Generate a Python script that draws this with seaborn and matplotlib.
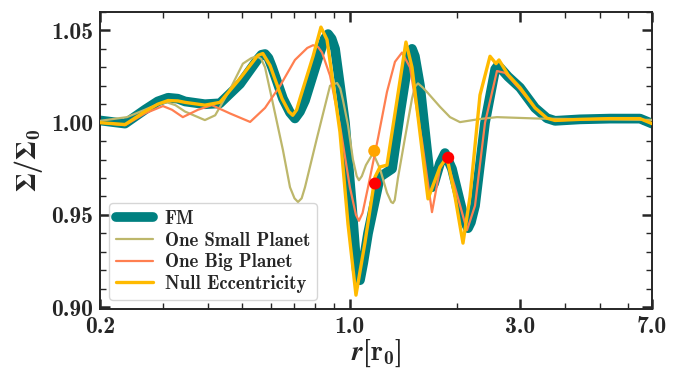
import matplotlib
matplotlib.use('Agg')
import matplotlib.pyplot as plt
from matplotlib.ticker import FixedLocator, FormatStrFormatter, MultipleLocator, LogLocator, NullFormatter
import seaborn as sns
import numpy as np

# radius in r0 and surface density ratio
r_fm = [0.200, 0.235, 0.267, 0.290, 0.310, 0.330, 0.346, 0.393, 0.433, 0.493, 0.553, 0.566,
        0.579, 0.592, 0.606, 0.650, 0.680, 0.702, 0.725, 0.749, 0.815, 0.850, 0.869, 0.889,
        0.909, 0.969, 1.013, 1.045, 1.067, 1.090, 1.124, 1.214, 1.312, 1.381, 1.465, 1.492,
        1.520, 1.571, 1.680, 1.697, 1.720, 1.787, 1.845, 1.930, 2.100, 2.140, 2.180, 2.239,
        2.388, 2.550, 2.596, 2.640, 2.769, 2.992, 3.296, 3.560, 3.749, 4.403, 5.341, 6.479, 7.0]
s_fm = [1.0012, 0.9995, 1.0070, 1.0115, 1.0135, 1.0130, 1.0115, 1.0100, 1.0105, 1.0210, 1.0345, 1.0368,
        1.0372, 1.0350, 1.0300, 1.0130, 1.0055, 1.0023, 1.0060, 1.0120, 1.0350, 1.0455, 1.0480, 1.0455,
        1.0400, 1.0000, 0.9550, 0.9200, 0.9146, 0.9240, 0.9400, 0.9706, 0.9750, 1.0050, 1.0370, 1.0400,
        1.0360, 1.0200, 0.9680, 0.9650, 0.9670, 0.9780, 0.9835, 0.9750, 0.9460, 0.9428, 0.9460, 0.9550,
        1.0000, 1.0290, 1.0310, 1.0295, 1.0250, 1.0190, 1.0080, 1.0024, 1.0010, 1.0018, 1.0022, 1.0022, 0.9995]

r_small = [0.200, 0.238, 0.267, 0.290, 0.308, 0.325, 0.346, 0.393, 0.420, 0.462, 0.502, 0.530,
           0.550, 0.565, 0.579, 0.609, 0.650, 0.680, 0.700, 0.716, 0.733, 0.749, 0.809, 0.880,
           0.900, 0.921, 0.940, 0.957, 0.988, 1.020, 1.045, 1.060, 1.080, 1.109, 1.161, 1.214,
           1.270, 1.305, 1.320, 1.335, 1.363, 1.426, 1.492, 1.520, 1.551, 1.600, 1.654, 1.787,
           1.906, 2.032, 2.312, 2.579, 3.403, 5.008, 7.0]
s_small = [1.0010, 1.0030, 1.0070, 1.0100, 1.0110, 1.0095, 1.0060, 1.0014, 1.0040, 1.0180, 1.0320, 1.0350,
           1.0360, 1.0345, 1.0300, 1.0105, 0.9850, 0.9650, 0.9590, 0.9570, 0.9590, 0.9650, 0.9917, 1.0200,
           1.0208, 1.0215, 1.0185, 1.0120, 0.9987, 0.9800, 0.9710, 0.9688, 0.9710, 0.9770, 0.9835, 0.9750,
           0.9620, 0.9570, 0.9564, 0.9580, 0.9700, 0.9917, 1.0130, 1.0195, 1.0213, 1.0190, 1.0160, 1.0086,
           1.0030, 1.0003, 1.0020, 1.0030, 1.0022, 1.0018, 1.0015]

r_big = [0.200, 0.235, 0.267, 0.300, 0.318, 0.341, 0.376, 0.411, 0.462, 0.526, 0.579, 0.638,
         0.702, 0.760, 0.789, 0.815, 0.836, 0.880, 0.938, 1.000, 1.040, 1.060, 1.085, 1.124,
         1.199, 1.270, 1.337, 1.399, 1.473, 1.591, 1.697, 1.787, 1.857, 1.968, 2.126, 2.239,
         2.388, 2.579, 2.716, 2.992, 3.296, 3.560, 3.749, 4.403, 5.341, 6.479, 7.0]
s_big = [1.0000, 0.9986, 1.0050, 1.0090, 1.0070, 1.0030, 1.0070, 1.0095, 1.0050, 1.0004, 1.0080, 1.0200,
         1.0340, 1.0405, 1.0420, 1.0410, 1.0380, 1.0255, 0.9987, 0.9650, 0.9500, 0.9468, 0.9510, 0.9650,
         0.9917, 1.0167, 1.0330, 1.0380, 1.0300, 0.9900, 0.9515, 0.9750, 0.9810, 0.9650, 0.9417, 0.9550,
         1.0000, 1.0280, 1.0270, 1.0180, 1.0080, 1.0024, 1.0012, 1.0018, 1.0022, 1.0022, 0.9995]

r_null = [0.200, 0.235, 0.267, 0.290, 0.310, 0.330, 0.346, 0.393, 0.433, 0.493, 0.553, 0.571,
          0.598, 0.646, 0.675, 0.692, 0.710, 0.725, 0.789, 0.830, 0.863, 0.938, 0.988, 1.040,
          1.102, 1.176, 1.214, 1.270, 1.337, 1.435, 1.492, 1.654, 1.787, 1.869, 1.968, 2.072,
          2.168, 2.312, 2.466, 2.563, 2.613, 2.769, 2.992, 3.296, 3.560, 3.749, 4.403, 5.341, 6.479, 7.0]
s_null = [1.0000, 0.9990, 1.0060, 1.0100, 1.0120, 1.0118, 1.0110, 1.0095, 1.0110, 1.0240, 1.0365, 1.0375,
          1.0310, 1.0130, 1.0060, 1.0040, 1.0070, 1.0130, 1.0360, 1.0518, 1.0450, 0.9950, 0.9450, 0.9065,
          0.9350, 0.9706, 0.9760, 0.9770, 1.0050, 1.0437, 1.0300, 0.9587, 0.9760, 0.9813, 0.9600, 0.9347,
          0.9600, 1.0150, 1.0360, 1.0320, 1.0340, 1.0260, 1.0190, 1.0080, 1.0024, 1.0012, 1.0018, 1.0022, 1.0022, 0.9995]

# highlighted points
r_orange = [1.170]
s_orange = [0.9847]
r_red = [1.176, 1.884]
s_red = [0.9670, 0.9810]

sns.set_style('ticks')
plt.rcParams['font.family'] = ['cmb10', 'DejaVu Serif']
plt.rcParams['mathtext.fontset'] = 'custom'
plt.rcParams['mathtext.rm'] = 'cmb10'
plt.rcParams['mathtext.bf'] = 'cmb10'
plt.rcParams['mathtext.it'] = 'STIXGeneral:italic:bold'
plt.rcParams['mathtext.bfit'] = 'STIXGeneral:italic:bold'
plt.rcParams['mathtext.fallback'] = 'stix'
plt.rcParams['axes.unicode_minus'] = False

fig = plt.figure(figsize=(6.83, 3.70), dpi=100)
ax = fig.add_axes([0.1464, 0.1649, 0.8082, 0.8027])

sns.lineplot(x=r_fm, y=s_fm, ax=ax, color='#008080', lw=7, label='FM', sort=False,
             solid_joinstyle='round', zorder=2)
sns.lineplot(x=r_small, y=s_small, ax=ax, color='#BDB76B', lw=1.6, label='One Small Planet', sort=False, zorder=3)
sns.lineplot(x=r_big, y=s_big, ax=ax, color='#FF7F50', lw=1.6, label='One Big Planet', sort=False, zorder=4)
sns.lineplot(x=r_null, y=s_null, ax=ax, color='#FFBA00', lw=2.4, label='Null Eccentricity', sort=False,
             solid_joinstyle='round', zorder=5)

sns.scatterplot(x=r_orange, y=s_orange, ax=ax, color='#FFA500', s=75, edgecolor='none', zorder=6)
sns.scatterplot(x=r_red, y=s_red, ax=ax, color='#FF0000', s=75, edgecolor='none', zorder=7)

ax.set_xscale('log')
ax.set_xlim(0.2, 7.0)
ax.set_ylim(0.899, 1.060)

ax.xaxis.set_major_locator(FixedLocator([0.2, 1.0, 3.0, 7.0]))
ax.xaxis.set_major_formatter(FormatStrFormatter('%.1f'))
ax.xaxis.set_minor_locator(LogLocator(base=10, subs=np.arange(2, 10)))
ax.xaxis.set_minor_formatter(NullFormatter())
ax.yaxis.set_major_locator(MultipleLocator(0.05))
ax.yaxis.set_major_formatter(FormatStrFormatter('%.2f'))
ax.yaxis.set_minor_locator(MultipleLocator(0.01))

ax.tick_params(which='both', direction='in', top=True, right=True, labelsize=17)
ax.tick_params(which='major', length=7, width=1.8, pad=5)
ax.tick_params(which='minor', length=4, width=1.0)
for sp in ax.spines.values():
    sp.set_linewidth(1.4)

ax.set_xlabel(r'$\boldsymbol{r}[\mathbf{r_0}]$', fontsize=20, labelpad=0)
ax.set_ylabel(r'$\mathbf{\Sigma/\Sigma_0}$', fontsize=20, labelpad=4)

leg = ax.legend(loc='lower left', fontsize=13.5, handlelength=2.0, handletextpad=0.6,
                frameon=True, borderaxespad=0.5, labelspacing=0.2, borderpad=0.35)
leg.get_frame().set_edgecolor('#cccccc')

fig.savefig('out.png', dpi=100)
